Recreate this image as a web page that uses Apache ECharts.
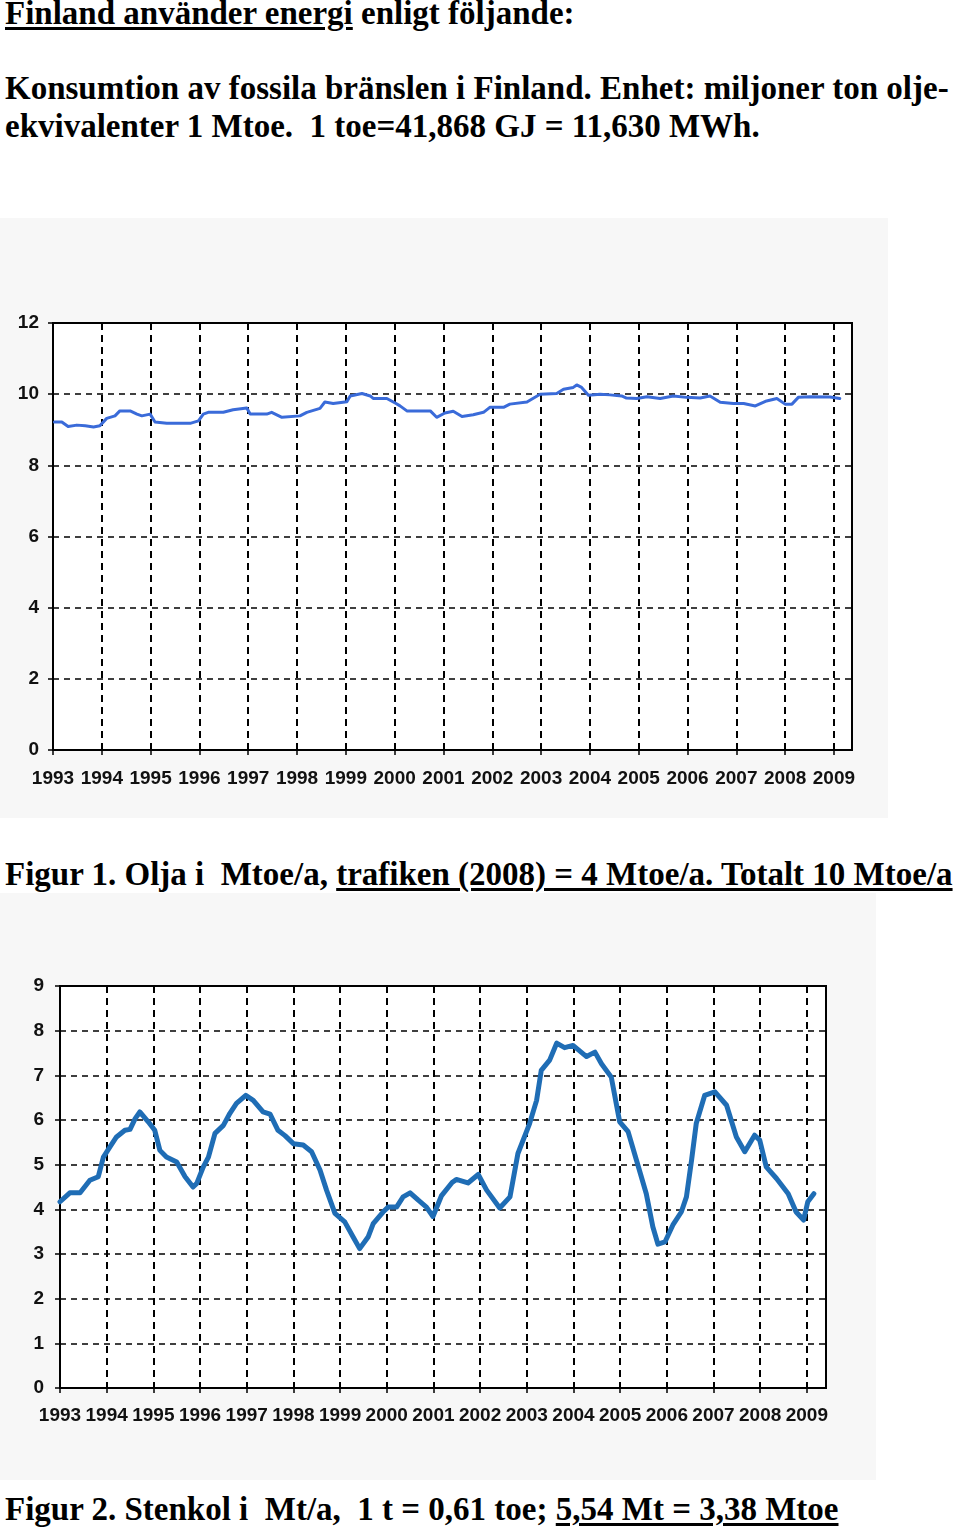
<!DOCTYPE html>
<html>
<head>
<meta charset="utf-8">
<script src="https://cdn.jsdelivr.net/npm/echarts@6/dist/echarts.min.js"></script>
<style>
  html, body { margin: 0; padding: 0; background: #ffffff; }
  body { width: 960px; height: 1531px; position: relative; overflow: hidden; }
  .t { position: absolute; left: 5px; font-family: "Liberation Serif", "Times New Roman", serif; font-weight: bold;
       font-size: 33px; line-height: 1; color: #000; white-space: pre; }
  .u { text-decoration: underline; text-decoration-thickness: 3px; text-underline-offset: 3px; }
  .panel { position: absolute; left: 0; background: #f7f7f7; }
</style>
</head>
<body>
<div class="t" style="top:-3px;"><span class="u">Finland använder energi</span> enligt följande:</div>
<div class="t" style="top:72px;">Konsumtion av fossila bränslen i Finland. Enhet: miljoner ton olje-</div>
<div class="t" style="top:110px;">ekvivalenter 1 Mtoe.  1 toe=41,868 GJ = 11,630 MWh.</div>

<div id="c1" class="panel" style="top:218px;width:888px;height:600px;"></div>
<div class="t" style="top:858px;">Figur 1. Olja i  Mtoe/a, <span class="u">trafiken (2008) = 4 Mtoe/a. Totalt 10 Mtoe/a</span></div>

<div id="c2" class="panel" style="top:893px;width:876px;height:587px;"></div>
<div class="t" style="top:1493px;">Figur 2. Stenkol i  Mt/a,  1 t = 0,61 toe; <span class="u">5,54 Mt = 3,38 Mtoe</span></div>

<script>
// ---- Data ----
const yearLabels = ['1993','1994','1995','1996','1997','1998','1999','2000','2001','2002','2003','2004','2005','2006','2007','2008','2009'];

// Figur 1: oil, Mtoe/a (moving annual values)
const oilTime = [1993.03,1993.18,1993.31,1993.49,1993.66,1993.83,1993.96,1994.10,1994.27,1994.37,1994.58,1994.72,1994.82,1994.99,
  1995.09,1995.33,1995.81,1995.98,1996.08,1996.18,1996.49,1996.69,1996.97,1997.04,1997.38,1997.48,1997.69,1998.06,1998.20,
  1998.47,1998.57,1998.74,1999.02,1999.09,1999.33,1999.50,1999.56,1999.84,2000.01,2000.11,2000.25,2000.73,2000.86,2001.03,
  2001.20,2001.38,2001.61,2001.82,2001.95,2002.23,2002.36,2002.71,2002.98,2003.32,2003.46,2003.66,2003.73,2003.83,2003.97,
  2004.21,2004.41,2004.65,2004.75,2004.96,2005.17,2005.44,2005.71,2005.98,2006.26,2006.46,2006.67,2006.94,2007.15,2007.39,
  2007.62,2007.83,2008.00,2008.14,2008.27,2008.51,2008.92,2009.12];
const oilValues = [9.22,9.22,9.09,9.13,9.11,9.08,9.11,9.32,9.39,9.53,9.53,9.44,9.39,9.44,
  9.22,9.18,9.18,9.25,9.44,9.49,9.49,9.56,9.61,9.44,9.44,9.49,9.35,9.39,9.49,
  9.60,9.78,9.74,9.79,9.95,10.02,9.95,9.88,9.88,9.75,9.67,9.53,9.53,9.35,9.47,
  9.52,9.37,9.42,9.49,9.63,9.63,9.72,9.78,10.00,10.02,10.14,10.19,10.26,10.19,9.97,
  10.00,9.98,9.95,9.89,9.88,9.93,9.88,9.95,9.91,9.89,9.95,9.77,9.74,9.74,9.67,
  9.81,9.88,9.72,9.72,9.91,9.93,9.92,9.88];

// Figur 2: hard coal, Mt/a
const coalTime = [1993.00,1993.21,1993.43,1993.64,1993.82,1993.93,1994.07,1994.21,1994.39,1994.50,1994.61,1994.71,1994.89,
  1995.03,1995.14,1995.28,1995.50,1995.68,1995.85,1995.93,1996.07,1996.18,1996.32,1996.50,1996.64,1996.78,1996.98,1997.14,
  1997.35,1997.50,1997.67,1997.82,1998.00,1998.21,1998.39,1998.57,1998.71,1998.89,1999.10,1999.28,1999.42,1999.60,1999.71,
  1999.92,2000.03,2000.21,2000.35,2000.50,2000.67,2000.85,2000.99,2001.17,2001.40,2001.49,2001.74,2001.96,2002.14,2002.42,
  2002.64,2002.81,2003.06,2003.21,2003.31,2003.49,2003.64,2003.81,2003.99,2004.28,2004.46,2004.60,2004.81,2004.99,2005.17,
  2005.35,2005.56,2005.70,2005.81,2005.96,2006.13,2006.31,2006.42,2006.53,2006.63,2006.81,2007.03,2007.28,2007.49,2007.67,
  2007.88,2007.99,2008.13,2008.35,2008.60,2008.77,2008.93,2009.02,2009.15];
const coalValues = [4.17,4.37,4.37,4.65,4.73,5.17,5.40,5.62,5.77,5.79,6.03,6.18,5.96,
  5.77,5.32,5.17,5.06,4.73,4.50,4.58,4.95,5.17,5.70,5.88,6.15,6.37,6.55,6.44,
  6.18,6.13,5.77,5.65,5.47,5.44,5.29,4.88,4.43,3.91,3.72,3.38,3.12,3.38,3.68,
  3.94,4.05,4.05,4.28,4.37,4.21,4.05,3.84,4.30,4.60,4.67,4.59,4.78,4.43,4.03,
  4.28,5.25,5.92,6.44,7.11,7.34,7.72,7.62,7.67,7.42,7.52,7.26,6.96,5.96,5.74,
  5.10,4.35,3.61,3.22,3.27,3.65,3.94,4.28,5.10,5.92,6.55,6.63,6.33,5.62,5.29,
  5.66,5.55,4.95,4.69,4.35,3.94,3.76,4.17,4.35];

const yTicks1 = [0,2,4,6,8,10,12];
const yTicks2 = [0,1,2,3,4,5,6,7,8,9];

// ---- Builder ----
const labelFont = { fontFamily: 'Liberation Sans, Arial, sans-serif', fontWeight: 'bold', fontSize: 19, color: '#111' };

function makeOption(cfg) {
  const pairs = cfg.time.map((t, i) => [t, cfg.values[i]]);
  const firstYear = Number(yearLabels[0]);
  return {
    animation: false,
    grid: { left: cfg.left, top: cfg.top, width: cfg.width, height: cfg.height,
            show: true, backgroundColor: '#ffffff', borderColor: '#000', borderWidth: 2 },
    xAxis: {
      type: 'value', min: firstYear, max: cfg.xMax, interval: 1,
      axisLine: { show: true, onZero: false, lineStyle: { color: '#000', width: 2 } },
      axisTick: { show: true, length: 5, lineStyle: { color: '#000', width: 1.5 } },
      axisLabel: Object.assign({}, labelFont, { margin: cfg.xMargin, showMaxLabel: false,
        formatter: v => { const i = Math.round(v - firstYear); return Math.abs(v - Math.round(v)) < 1e-6 && yearLabels[i] ? yearLabels[i] : ''; } }),
      splitLine: { show: true, lineStyle: { color: '#000', width: 2, type: [7, 5] } }
    },
    yAxis: {
      type: 'value', min: cfg.yTicks[0], max: cfg.yTicks[cfg.yTicks.length - 1], interval: cfg.yTicks[1] - cfg.yTicks[0],
      axisLine: { show: true, lineStyle: { color: '#000', width: 2 } },
      axisTick: { show: true, length: 5, lineStyle: { color: '#000', width: 1.5 } },
      axisLabel: Object.assign({}, labelFont, { margin: cfg.yMargin, formatter: v => String(v) }),
      splitLine: { show: true, lineStyle: { color: '#000', width: 1.5, type: [6, 5] } }
    },
    series: [{
      type: 'line', data: pairs, showSymbol: false, smooth: false,
      lineStyle: { color: cfg.color, width: cfg.lineWidth, join: 'round', cap: 'round' }
    }]
  };
}

const c1 = echarts.init(document.getElementById('c1'), null, { renderer: 'canvas' });
c1.setOption(makeOption({ time: oilTime, values: oilValues, left: 53, top: 105, width: 799, height: 427,
  xMax: 2009.37, yTicks: yTicks1, xMargin: 19, yMargin: 14, color: '#3a6bd9', lineWidth: 3 }));

const c2 = echarts.init(document.getElementById('c2'), null, { renderer: 'canvas' });
c2.setOption(makeOption({ time: coalTime, values: coalValues, left: 60, top: 93, width: 766, height: 402,
  xMax: 2009.41, yTicks: yTicks2, xMargin: 18, yMargin: 16, color: '#1f6db5', lineWidth: 5 }));
</script>
</body>
</html>
